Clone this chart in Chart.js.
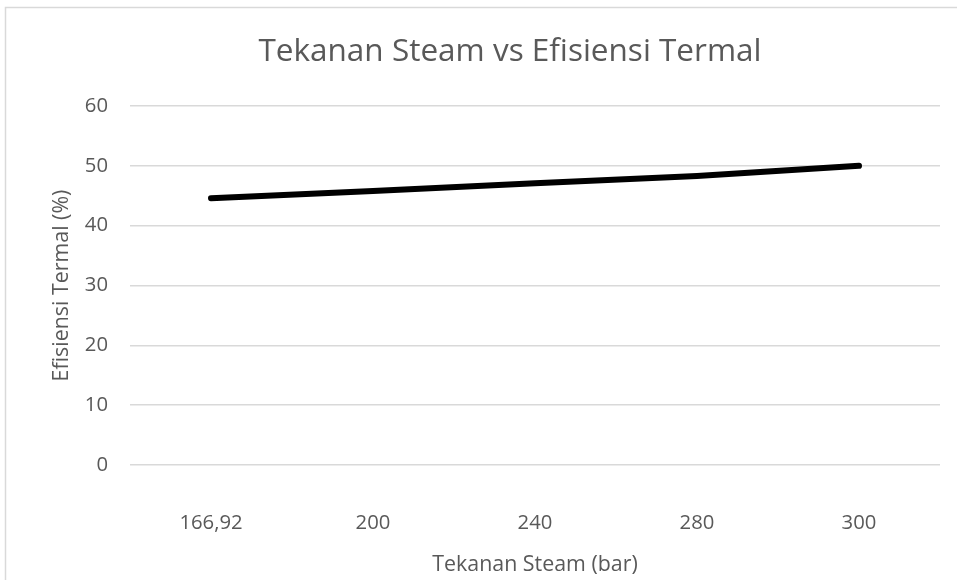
<!DOCTYPE html>
<html>
<head>
<meta charset="utf-8">
<script src="https://cdn.jsdelivr.net/npm/chart.js@4"></script>
<style>
  html, body { margin:0; padding:0; background:#fff; }
  canvas { display:block; }
</style>
</head>
<body>
<canvas id="lineChart" width="957" height="580"></canvas>
<script>
const pressures = ['166,92', '200', '240', '280', '300']
const efficiency = [44.6, 45.8, 47.1, 48.3, 50.0]
const yMin = 0, yMax = 60, yStep = 10

const textColor = '#595959'
const gridColor = '#d9d9d9'
const font = 'Open Sans'

// light frame round the chart, like the Excel chart border
const frame = {
  id: 'frame',
  beforeDraw(chart) {
    const c = chart.ctx
    c.save()
    c.fillStyle = '#fff'
    c.fillRect(0, 0, chart.width, chart.height)
    c.strokeStyle = gridColor
    c.lineWidth = 1.5
    c.strokeRect(5.5, 7.5, chart.width + 10, chart.height + 10)
    c.restore()
  }
}

const ctx = document.getElementById('lineChart').getContext('2d')
new Chart(ctx, {
  type: 'line',
  data: {
    labels: pressures,
    datasets: [{
      data: efficiency,
      borderColor: '#000',
      borderWidth: 6,
      borderCapStyle: 'round',
      borderJoinStyle: 'round',
      pointRadius: 0,
      tension: 0,
      fill: false
    }]
  },
  options: {
    responsive: false,
    animation: false,
    // left padding shifts the title centre to the right, as in the Excel chart
    layout: { padding: { left: 80, right: 17, top: 0, bottom: 0 } },
    plugins: {
      legend: { display: false },
      tooltip: { enabled: false },
      title: {
        display: true,
        text: 'Tekanan Steam vs Efisiensi Termal',
        color: textColor,
        font: { family: font, size: 31.5, weight: 'normal' },
        padding: { top: 33.1, bottom: 35.1 }
      }
    },
    scales: {
      x: {
        offset: true,
        grid: { display: false, drawTicks: false },
        border: { display: false },
        ticks: { color: textColor, font: { family: font, size: 20.3 }, padding: 45.8, maxRotation: 0 },
        title: {
          display: true,
          text: 'Tekanan Steam (bar)',
          color: textColor,
          font: { family: font, size: 21.4 },
          padding: { top: 0, bottom: 2.2 }
        },
        afterFit: s => { s.height = 115 }
      },
      y: {
        min: yMin,
        max: yMax,
        grid: { color: gridColor, lineWidth: 1.5, drawTicks: false },
        border: { display: false },
        ticks: { stepSize: yStep, color: textColor, font: { family: font, size: 20.3 }, padding: 22 },
        title: {
          display: true,
          text: 'Efisiensi Termal (%)',
          color: textColor,
          font: { family: font, size: 21.4 },
          padding: { top: -30.8, bottom: 0 }
        },
        afterFit: s => { s.width = 50 }
      }
    }
  },
  plugins: [frame]
})
</script>
</body>
</html>
